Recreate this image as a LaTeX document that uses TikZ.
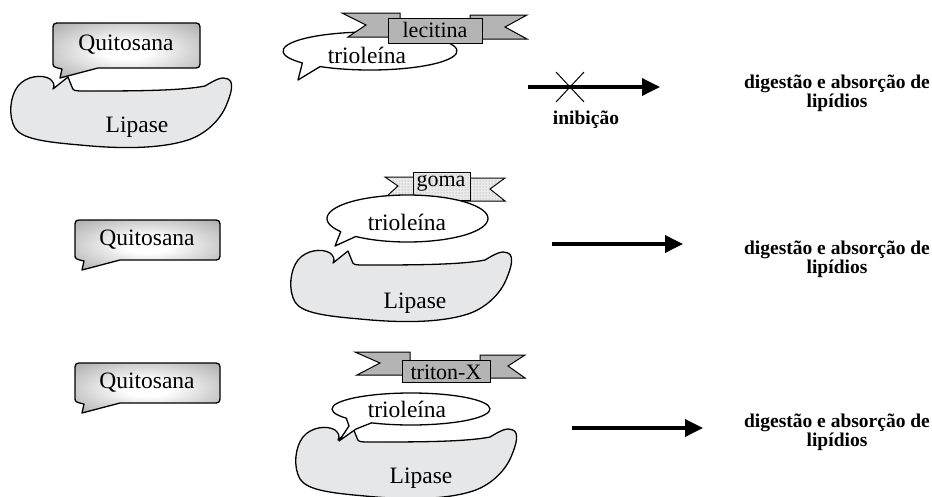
\documentclass[tikz,border=0pt]{standalone}
\usepackage{fontspec}
\setmainfont{Liberation Serif}
\usetikzlibrary{arrows.meta,patterns}
\definecolor{lipgray}{HTML}{E6E7E8}
\definecolor{ribgray}{HTML}{B4B4B4}
\pgfdeclareradialshading{qshade}{\pgfpoint{0bp}{0bp}}{color(0bp)=(white); color(8bp)=(white); color(50bp)=(black!50); color(100bp)=(black!50)}
\newcommand{\lipblob}[2]{%
  \begin{scope}[shift={(#1,#2)}]
    \draw[outl, fill=lipgray] (43,13) -- (58,1) -- (62,11)
      .. controls (63,15) and (65,15) .. (75,15)
      .. controls (120,15) and (170,15) .. (195,10)
      .. controls (205,4) and (212,0) .. (218,3)
      .. controls (224,6) and (222,16) .. (216,30)
      .. controls (210,44) and (196,58) .. (178,64)
      .. controls (150,73) and (110,73) .. (70,69)
      .. controls (35,66) and (12,63) .. (5,52)
      .. controls (-2,40) and (0,20) .. (8,10)
      .. controls (16,0) and (32,-2) .. (40,3)
      .. controls (44,6) and (45,10) .. (43,13) -- cycle;
  \end{scope}}
\newcommand{\qcallout}[4]{%
  \shadedraw[shading=qshade, outl]
    ({#1+45},#4) -- ({#3-8},#4) .. controls (#3,#4) .. (#3,{#4-8})
    -- (#3,{#2+8}) .. controls (#3,#2) .. ({#3-8},#2)
    -- ({#1+8},#2) .. controls (#1,#2) .. (#1,{#2+8})
    -- (#1,{#4-6}) .. controls (#1,{#4-1}) .. ({#1+9},{#4+1})
    -- ({#1+7},{#4+10}) -- cycle;}
\newcommand{\ecallout}[8]{%
  \draw[outl, fill=white] ({#1+#3*cos(#5)},{#2+#4*sin(#5)})
    arc[start angle=#5, end angle={#6+360}, x radius=#3, y radius=#4]
    -- (#7,#8) -- cycle;}
\begin{document}
\begin{tikzpicture}[x=1pt,y=-1pt,
  outl/.style={line width=1.3pt, line join=round},
  lbl/.style={font=\fontsize{23.5}{25}\selectfont, inner sep=0pt},
  rlbl/.style={font=\fontsize{22}{24}\selectfont, inner sep=0pt},
  blbl/.style={font=\fontsize{19.5}{19}\selectfont\bfseries, inner sep=0pt, align=center},
  rib/.style={draw, line width=1pt, fill=ribgray},
  ribdot/.style={draw, line width=1pt, fill=black!8, postaction={pattern=dots, pattern color=black!45}},
  bigarrow/.style={line width=3.5pt, -{Triangle[length=18pt,width=17pt]}},
  crossl/.style={line width=1pt}]
\useasboundingbox (0,0) rectangle (932,496);
\fill[white] (0,0) rectangle (932,496);

% ---------- row 1 ----------
\lipblob{10}{76}
\node[lbl] (lip1) at (137,127) {Lipase};
\qcallout{53}{23}{200}{68}
\node[lbl] (q1) at (126,45) {Quitosana};
\ecallout{370}{51}{87}{19}{141}{125}{298}{80}
\node[lbl] (t1) at (367,55) {trioleína};
\draw[rib] (342,13) -- (400,13) -- (400,37) -- (348,37) -- (366,25) -- cycle;
\draw[rib] (470,15) -- (527,15) -- (505,27) -- (527,39) -- (470,39) -- cycle;
\draw[rib] (388,18) rectangle (482,43);
\node[rlbl] (r1) at (435,30) {lecitina};
\coordinate (a1s) at (528,87);
\coordinate (a1e) at (660,87);
\draw[bigarrow] (a1s) -- (a1e);
\coordinate (x1c) at (570,87);
\draw[crossl] (x1c) ++(-14,-15) -- ++(28,30);
\draw[crossl] (x1c) ++(14,-15) -- ++(-28,30);
\node[blbl] (inib) at (586,120) {inibição};
\node[blbl] (d1) at (837,93) {digestão e absorção de\\lipídios};

% ---------- row 2 ----------
\lipblob{290}{250}
\node[lbl] (lip2) at (415,303) {Lipase};
\qcallout{75}{220}{220}{260}
\node[lbl] (q2) at (147,240) {Quitosana};
\draw[ribdot] (385,177) -- (420,177) -- (420,196) -- (387,196) -- (398,186) -- cycle;
\draw[ribdot] (463,178) -- (505,178) -- (490,189) -- (505,201) -- (463,201) -- cycle;
\draw[ribdot] (413,172) rectangle (470,200);
\node[rlbl] (r2) at (441,183) {goma};
\ecallout{407.5}{218.5}{80.5}{23.5}{146}{130}{335}{246}
\node[lbl] (t2) at (407,222) {trioleína};
\coordinate (a2s) at (552,244);
\coordinate (a2e) at (683,244);
\draw[bigarrow] (a2s) -- (a2e);
\node[blbl] (d2) at (837,259) {digestão e absorção de\\lipídios};

% ---------- row 3 ----------
\lipblob{295}{427}
\node[lbl] (lip3) at (421,478) {Lipase};
\qcallout{75}{363}{220}{403}
\node[lbl] (q3) at (147,383) {Quitosana};
\draw[rib] (355,352) -- (410,352) -- (410,375) -- (357,375) -- (380,363) -- cycle;
\draw[rib] (480,355) -- (525,355) -- (508,366) -- (525,378) -- (480,378) -- cycle;
\draw[rib] (402,360) rectangle (490,382);
\node[rlbl] (r3) at (446,372) {triton-X};
\draw[outl, fill=white] ({411+79*cos(145)},{409+16*sin(145)})
  arc[start angle=145, end angle=480, x radius=79, y radius=16]
  -- (356,429) -- (339,441) -- (349,426) -- cycle;
\node[lbl] (t3) at (407,409) {trioleína};
\coordinate (a3s) at (572,428);
\coordinate (a3e) at (703,428);
\draw[bigarrow] (a3s) -- (a3e);
\node[blbl] (d3) at (837,432) {digestão e absorção de\\lipídios};
\end{tikzpicture}
\end{document}
